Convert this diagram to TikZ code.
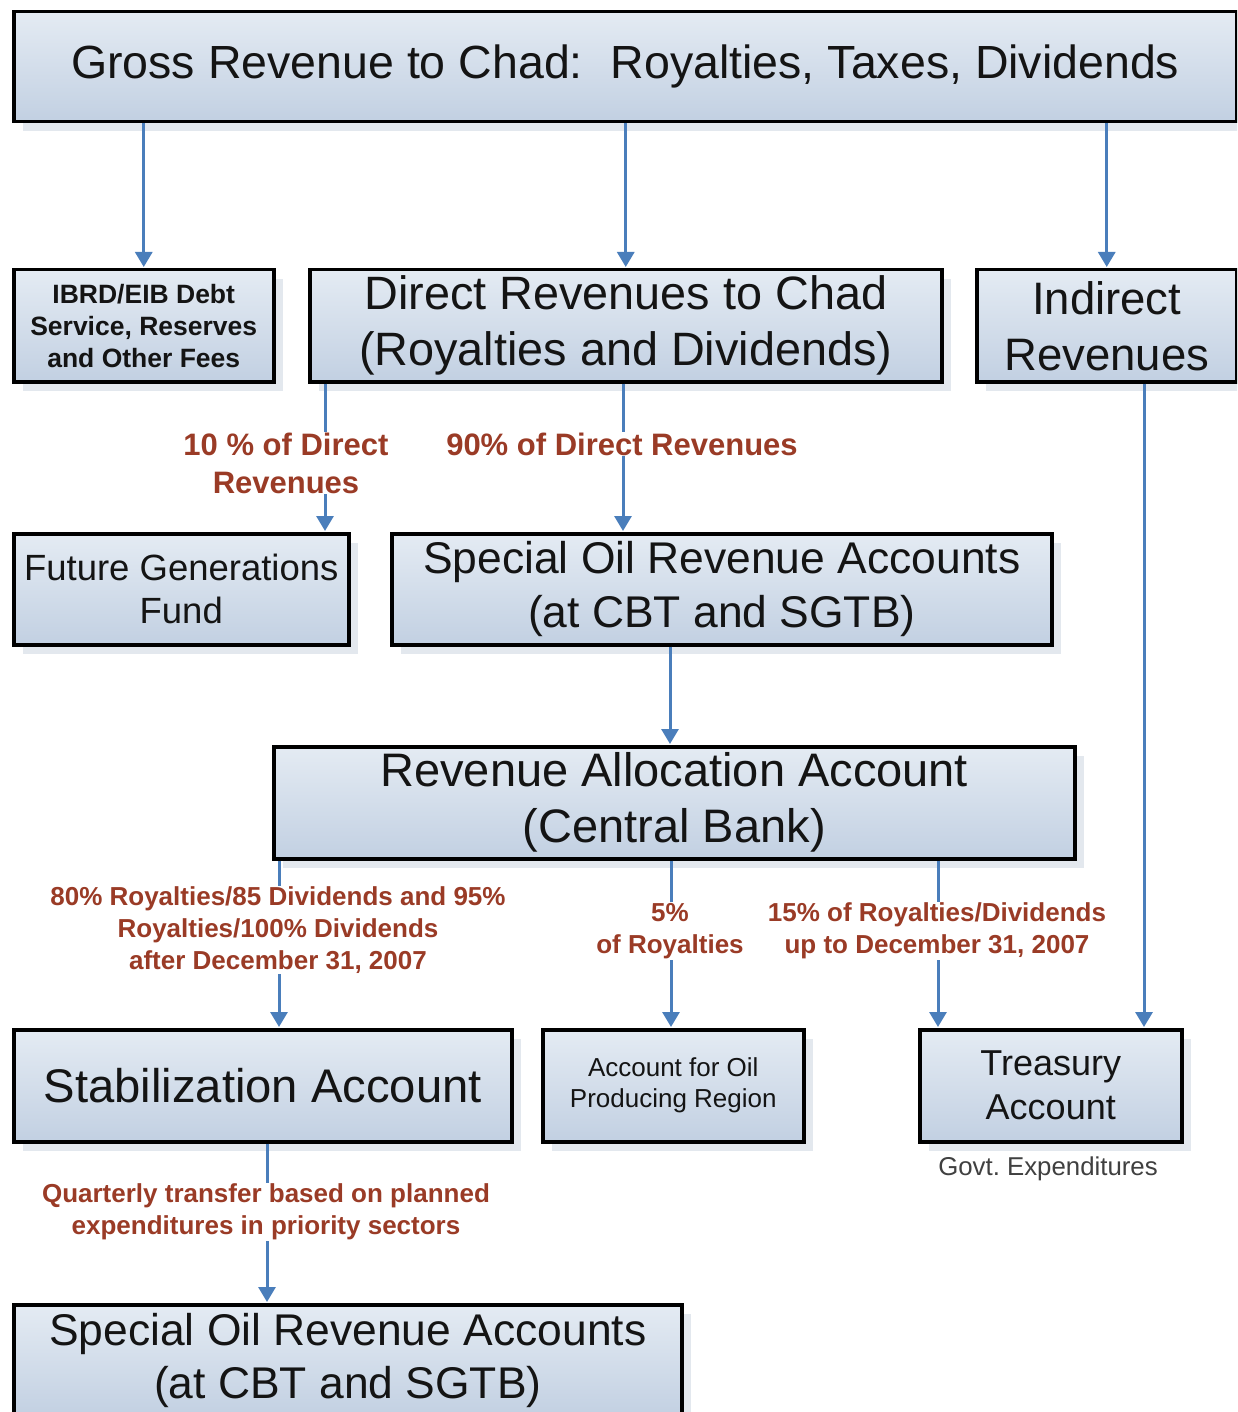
\documentclass[tikz,border=0pt]{standalone}
\usepackage{fontspec}
\setmainfont{Liberation Sans}
\usetikzlibrary{arrows.meta,shadows,calc}
\definecolor{arrowblue}{HTML}{4A7EBB}
\definecolor{labred}{HTML}{9A3B26}
\definecolor{boxtop}{HTML}{E4EBF3}
\definecolor{boxbot}{HTML}{C2D0E2}
\definecolor{shadowc}{HTML}{C9D3DF}
\newcommand\fsz[2]{\fontsize{#1pt}{#2pt}\selectfont}
\tikzset{
  box/.style={draw=black, line width=3.5pt, top color=boxtop, bottom color=boxbot,
    anchor=north west, inner sep=0pt, align=center, text=black!92,
    drop shadow={shadow xshift=9pt, shadow yshift=-9pt, fill=shadowc, opacity=0.5}},
  arr/.style={draw=arrowblue, line width=3pt, shorten >=1pt,
    -{Triangle[width=17pt,length=15pt]}},
  lab/.style={text=labred, align=center, fill=white, inner sep=1pt},
  biglab/.style={lab, font=\bfseries\fsz{31}{38}},
  smalllab/.style={lab, font=\bfseries\fsz{26}{32}},
}
\begin{document}
\begin{tikzpicture}[x=1pt,y=-1pt]
\clip (0,0) rectangle (1237,1412);
\fill[white] (0,0) rectangle (1237,1412);

% boxes
\node[box, minimum width=1223pt, minimum height=110pt, font=\fsz{46.5}{54}] (gross) at (12,10)
  {Gross Revenue to Chad:\hspace{0.6em}Royalties, Taxes, Dividends};
\node[box, minimum width=260pt, minimum height=112pt, font=\bfseries\fsz{26.5}{32}] (ibrd) at (12,268)
  {IBRD/EIB Debt\\Service, Reserves\\and Other Fees};
\node[box, minimum width=632pt, minimum height=112pt, font=\fsz{46.8}{56}] (direct) at (308,268)
  {Direct Revenues to Chad\\(Royalties and Dividends)};
\node[box, minimum width=260pt, minimum height=112pt, font=\fsz{45.5}{56}] (indirect) at (975,268)
  {Indirect\\Revenues};
\node[box, minimum width=335pt, minimum height=111pt, font=\fsz{36.5}{43}] (future) at (12,532)
  {Future Generations\\Fund};
\node[box, minimum width=660pt, minimum height=111pt, font=\fsz{44.4}{54}] (special1) at (390,532)
  {Special Oil Revenue Accounts\\(at CBT and SGTB)};
\node[box, minimum width=801pt, minimum height=112pt, font=\fsz{47}{56}] (ralloc) at (272,745)
  {Revenue Allocation Account\\(Central Bank)};
\node[box, minimum width=498pt, minimum height=112pt, font=\fsz{47.2}{56}] (stab) at (12,1028)
  {Stabilization Account};
\node[box, minimum width=261pt, minimum height=112pt, font=\fsz{26}{31}] (oilreg) at (541,1028)
  {Account for Oil\\Producing Region};
\node[box, minimum width=262pt, minimum height=112pt, font=\fsz{36}{44}] (treas) at (918,1028)
  {Treasury\\Account};
\node[text=black!75, font=\fsz{25.8}{30}] (govt) at (1048,1169) {Govt.\ Expenditures};
\node[box, minimum width=668pt, minimum height=112pt, font=\fsz{44.4}{53}] (special2) at (12,1303)
  {Special Oil Revenue Accounts\\(at CBT and SGTB)};

% connectors
\draw[arr] (gross.south -| ibrd.north) -- (ibrd.north);
\draw[arr] (gross.south -| direct.north) -- (direct.north);
\draw[arr] (gross.south -| indirect.north) -- (indirect.north);
\draw[arr] (direct.south -| 325,0) -- (future.north -| 325,0);
\draw[arr] (direct.south -| 623,0) -- (special1.north -| 623,0);
\draw[arr] (special1.south -| 670,0) -- (ralloc.north -| 670,0);
\draw[arr] (ralloc.south -| 279,0) -- (stab.north -| 279,0);
\draw[arr] (ralloc.south -| 671,0) -- (oilreg.north -| 671,0);
\draw[arr] (ralloc.south -| 938,0) -- (treas.north -| 938,0);
\draw[arr] (indirect.south -| 1144,0) -- (treas.north -| 1144,0);
\draw[arr] (stab.south -| 267,0) -- (special2.north -| 267,0);

% labels
\node[biglab] (l10) at (286,463) {10 \% of Direct\\Revenues};
\node[biglab] (l90) at (622,444) {90\% of Direct Revenues};
\node[smalllab] (l80) at (278,930) {80\% Royalties/85 Dividends and 95\%\\Royalties/100\% Dividends\\after December 31, 2007};
\node[smalllab] (l5) at (670,931) {5\%\\of Royalties};
\node[smalllab] (l15) at (937,931) {15\% of Royalties/Dividends\\up to December 31, 2007};
\node[smalllab] (lq) at (266,1212) {Quarterly transfer based on planned\\expenditures in priority sectors};
\end{tikzpicture}
\end{document}
